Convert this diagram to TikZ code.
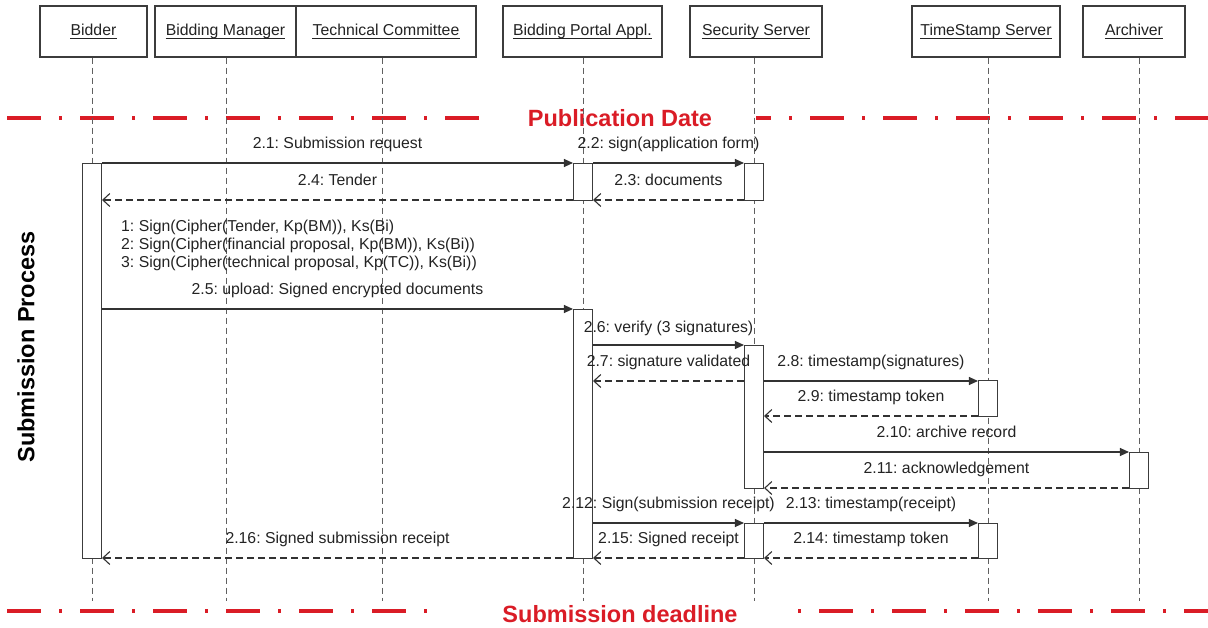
\documentclass[tikz,border=0pt]{standalone}
\usepackage{fontspec}
\setmainfont{Liberation Sans}
\usetikzlibrary{arrows.meta}
\frenchspacing

\definecolor{frame}{RGB}{60,60,60}
\definecolor{msg}{RGB}{50,50,50}
\definecolor{txt}{RGB}{35,35,35}
\definecolor{life}{RGB}{95,95,95}
\definecolor{mark}{RGB}{218,28,38}

\tikzset{
  every node/.style={font=\fontsize{15.8}{18}\selectfont, text=txt},
  head/.style={draw=frame, line width=1.1pt, fill=white, minimum height=51pt, inner sep=0},
  headtxt/.style={anchor=base, inner sep=0},
  uline/.style={draw=txt, line width=0.9pt},
  lifeline/.style={draw=life, line width=0.9pt, dash pattern=on 6pt off 4pt},
  actbar/.style={draw=frame, fill=white, line width=1.1pt, minimum width=19pt, inner sep=0, anchor=north},
  call/.style={draw=msg, line width=1.1pt, -{Triangle[length=9pt,width=8pt]}},
  ret/.style={draw=msg, line width=1.1pt, dash pattern=on 7pt off 4pt, -{Straight Barb[length=7pt,width=13pt,line width=1.1pt]}},
  lbl/.style={midway, anchor=base, yshift=14.5pt, inner sep=0},
  note/.style={anchor=base west, inner sep=0},
  deadline/.style={draw=mark, line width=4.5pt, dash pattern=on 34pt off 18pt on 3pt off 18pt},
  banner/.style={font=\bfseries\fontsize{23.5}{26}\selectfont, text=mark, inner sep=0},
  phase/.style={font=\bfseries\fontsize{23.5}{26}\selectfont, text=black, rotate=90, inner sep=0}
}

\begin{document}
\begin{tikzpicture}[x=1pt, y=-1pt]
\useasboundingbox (0,0) rectangle (1208,628);

% milestone lines
\node[banner] (pub) at (620,118) {Publication Date};
\draw[deadline] (7,118) -- (480,118);
\draw[deadline, dash phase=19pt] (756,118) -- (1208,118);
\node[banner] (sub) at (620,614) {Submission deadline};
\draw[deadline] (7,611) -- (428,611);
\draw[deadline, dash phase=52pt] (798,611) -- (1208,611);

% phase label
\node[phase] (proc) at (26,347) {Submission Process};

% participants
\foreach \name/\cx/\w/\lab in {bidder/93.5/107/Bidder, bm/225.5/141/Bidding Manager,
    tc/386/180/Technical Committee, bpa/582.5/159/Bidding Portal Appl.,
    ss/756/132/Security Server, ts/986/148/TimeStamp Server, arch/1134/102/Archiver}
{
  \node[head, minimum width=\w pt] (\name) at (\cx,31.5) {};
  \node[headtxt] (\name-t) at (\cx,35.5) {\lab};
  \draw[uline] ([yshift=-3pt]\name-t.base west) -- ([yshift=-3pt]\name-t.base east);
}

% lifelines
\foreach \name/\lx in {bidder/92, bm/226, tc/382, bpa/583, ss/754, ts/988, arch/1139}
  \draw[lifeline] (\name.south -| \lx,0) -- (\lx,601);

% activation bars
\node[actbar, minimum height=395pt] (bidA) at (92,163) {};
\node[actbar, minimum height=37pt]  (bpaA) at (583,163) {};
\node[actbar, minimum height=37pt]  (ssA)  at (754,163) {};
\node[actbar, minimum height=249pt] (bpaB) at (583,309) {};
\node[actbar, minimum height=143pt] (ssB)  at (754,345) {};
\node[actbar, minimum height=36pt]  (tsA)  at (988,380) {};
\node[actbar, minimum height=36pt]  (arA)  at (1139,452) {};
\node[actbar, minimum height=35pt]  (ssC)  at (754,523) {};
\node[actbar, minimum height=35pt]  (tsB)  at (988,523) {};

% messages
\draw[call] (bidA.east |- 0,163) -- node[lbl] {2.1: Submission request} (bpaA.west |- 0,163);
\draw[call] (bpaA.east |- 0,163) -- node[lbl] {2.2: sign(application form)} (ssA.west |- 0,163);
\draw[ret]  (ssA.west |- 0,200) -- node[lbl] {2.3: documents} (bpaA.east |- 0,200);
\draw[ret]  (bpaA.west |- 0,200) -- node[lbl] {2.4: Tender} (bidA.east |- 0,200);

\node[note] (n1) at (121,231.5) {1: Sign(Cipher(Tender, Kp(BM)), Ks(Bi)};
\node[note] (n2) at (121,249.5) {2: Sign(Cipher(financial proposal, Kp(BM)), Ks(Bi))};
\node[note] (n3) at (121,267.5) {3: Sign(Cipher(technical proposal, Kp(TC)), Ks(Bi))};

\draw[call] (bidA.east |- 0,309) -- node[lbl] {2.5: upload: Signed encrypted documents} (bpaB.west |- 0,309);
\draw[call] (bpaB.east |- 0,345) -- node[lbl, yshift=-2.5pt] {2.6: verify (3 signatures)} (ssB.west |- 0,345);
\draw[ret]  (ssB.west |- 0,381) -- node[lbl] {2.7: signature validated} (bpaB.east |- 0,381);
\draw[call] (ssB.east |- 0,381) -- node[lbl] {2.8: timestamp(signatures)} (tsA.west |- 0,381);
\draw[ret]  (tsA.west |- 0,416) -- node[lbl] {2.9: timestamp token} (ssB.east |- 0,416);
\draw[call] (ssB.east |- 0,452) -- node[lbl] {2.10: archive record} (arA.west |- 0,452);
\draw[ret]  (arA.west |- 0,488) -- node[lbl] {2.11: acknowledgement} (ssB.east |- 0,488);
\draw[call] (bpaB.east |- 0,523) -- node[lbl] {2.12: Sign(submission receipt)} (ssC.west |- 0,523);
\draw[call] (ssC.east |- 0,523) -- node[lbl] {2.13: timestamp(receipt)} (tsB.west |- 0,523);
\draw[ret]  (tsB.west |- 0,558) -- node[lbl] {2.14: timestamp token} (ssC.east |- 0,558);
\draw[ret]  (ssC.west |- 0,558) -- node[lbl] {2.15: Signed receipt} (bpaB.east |- 0,558);
\draw[ret]  (bpaB.west |- 0,558) -- node[lbl] {2.16: Signed submission receipt} (bidA.east |- 0,558);
\end{tikzpicture}
\end{document}
